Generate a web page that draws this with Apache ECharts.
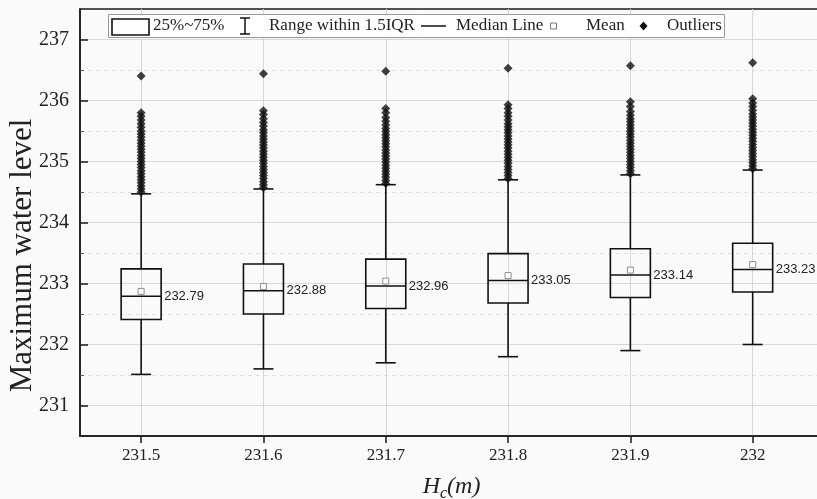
<!DOCTYPE html>
<html>
<head>
<meta charset="utf-8">
<script src="https://cdn.jsdelivr.net/npm/echarts@6/dist/echarts.min.js"></script>
<style>html,body{margin:0;padding:0;background:#fafafa}#c{width:817px;height:499px}</style>
</head>
<body>
<div id="c"></div>
<script>
// Hc categories (x positions)
var hc = [231.5, 231.6, 231.7, 231.8, 231.9, 232];
// box statistics
var whiskerLow  = [231.51, 231.60, 231.70, 231.80, 231.90, 232.00];
var q1          = [232.41, 232.50, 232.59, 232.68, 232.77, 232.86];
var median      = [232.79, 232.88, 232.96, 233.05, 233.14, 233.23];
var q3          = [233.24, 233.32, 233.40, 233.49, 233.57, 233.66];
var whiskerHigh = [234.47, 234.55, 234.62, 234.70, 234.78, 234.86];
var mean        = [232.87, 232.95, 233.04, 233.13, 233.22, 233.31];
// outliers per category
var out1 = [234.50,234.55,234.60,234.65,234.70,234.75,234.80,234.85,234.90,234.95,235.00,235.05,235.10,235.15,235.20,235.25,235.30,235.35,235.40,235.45,235.50,235.56,235.62,235.68,235.74,235.80,236.40];
var out2 = [234.57,234.62,234.67,234.72,234.77,234.82,234.87,234.92,234.97,235.02,235.07,235.12,235.17,235.22,235.27,235.32,235.37,235.42,235.47,235.52,235.58,235.64,235.70,235.77,235.83,236.44];
var out3 = [234.64,234.69,234.74,234.79,234.84,234.89,234.94,234.99,235.04,235.09,235.14,235.19,235.24,235.29,235.34,235.39,235.44,235.49,235.54,235.60,235.66,235.72,235.80,235.87,236.48];
var out4 = [234.72,234.77,234.82,234.87,234.92,234.97,235.02,235.07,235.12,235.17,235.22,235.27,235.32,235.37,235.42,235.47,235.52,235.57,235.62,235.68,235.74,235.80,235.87,235.93,236.53];
var out5 = [234.80,234.85,234.90,234.95,235.00,235.05,235.10,235.15,235.20,235.25,235.30,235.35,235.40,235.45,235.50,235.55,235.60,235.65,235.70,235.76,235.82,235.90,235.98,236.57];
var out6 = [234.88,234.93,234.98,235.03,235.08,235.13,235.18,235.23,235.28,235.33,235.38,235.43,235.48,235.53,235.58,235.63,235.68,235.73,235.78,235.84,235.90,235.96,236.03,236.62];
var outliers = [out1, out2, out3, out4, out5, out6];
// tick labels
var yMajor = [231, 232, 233, 234, 235, 236, 237];
var yMinor = [231.5, 232.5, 233.5, 234.5, 235.5, 236.5];

var boxData = hc.map(function (x, i) {
  return [x, whiskerLow[i], q1[i], median[i], q3[i], whiskerHigh[i]];
});
var meanData = hc.map(function (x, i) { return [x, mean[i]]; });
var outData = [];
outliers.forEach(function (arr, i) {
  arr.forEach(function (v) { outData.push([hc[i], v]); });
});

var serif = 'Liberation Serif';
var chart = echarts.init(document.getElementById('c'), null, {renderer: 'canvas'});

function renderBox(params, api) {
  var x = api.value(0);
  var pLow = api.coord([x, api.value(1)]);
  var pQ1 = api.coord([x, api.value(2)]);
  var pMed = api.coord([x, api.value(3)]);
  var pQ3 = api.coord([x, api.value(4)]);
  var pHigh = api.coord([x, api.value(5)]);
  var cx = pMed[0];
  var hw = 20, cw = 10;
  var ls = {stroke: '#111', lineWidth: 1.6, fill: null};
  return {
    type: 'group',
    children: [
      {type: 'line', shape: {x1: cx, y1: pLow[1], x2: cx, y2: pQ1[1]}, style: ls},
      {type: 'line', shape: {x1: cx, y1: pQ3[1], x2: cx, y2: pHigh[1]}, style: ls},
      {type: 'line', shape: {x1: cx - cw, y1: pLow[1], x2: cx + cw, y2: pLow[1]}, style: ls},
      {type: 'line', shape: {x1: cx - cw, y1: pHigh[1], x2: cx + cw, y2: pHigh[1]}, style: ls},
      {type: 'rect', shape: {x: cx - hw, y: pQ3[1], width: 2 * hw, height: pQ1[1] - pQ3[1]}, style: {stroke: '#111', lineWidth: 1.6, fill: 'none'}},
      {type: 'line', shape: {x1: cx - hw, y1: pMed[1], x2: cx + hw, y2: pMed[1]}, style: ls},
      {type: 'text', x: cx + hw + 3, y: pMed[1], style: {text: api.value(3).toFixed(2), font: '13px "Liberation Sans"', fill: '#222', textVerticalAlign: 'middle', textAlign: 'left'}}
    ]
  };
}

var lgY = 26;
var lgFont = '17px "Liberation Serif"';
var option = {
  backgroundColor: '#fafafa',
  animation: false,
  grid: {left: 80, top: 9, right: -6, bottom: 63, outerBoundsMode: 'none', containLabel: false, show: true, borderColor: '#1a1a1a', borderWidth: 1.5, backgroundColor: 'transparent'},
  xAxis: {
    type: 'value', min: 231.45, max: 232.0575,
    axisLine: {show: true, lineStyle: {color: '#1a1a1a', width: 1.5}},
    axisTick: {show: true, customValues: hc, length: 7, lineStyle: {color: '#1a1a1a', width: 1.5}},
    axisLabel: {customValues: hc, fontFamily: serif, fontSize: 17, color: '#222', margin: 11},
    splitLine: {show: true, lineStyle: {color: '#d6d6d6', width: 1}},
    name: '{a|H}{b|c}{a|(m)}', nameLocation: 'middle', nameGap: 36, nameMoveOverlap: false,
    nameTextStyle: {rich: {
      a: {fontFamily: serif, fontStyle: 'italic', fontSize: 24, color: '#222'},
      b: {fontFamily: serif, fontStyle: 'italic', fontSize: 16, color: '#222', padding: [14, 0, 0, 0]}
    }}
  },
  yAxis: [
    {
      type: 'value', min: 230.5, max: 237.5,
      axisLine: {show: true, lineStyle: {color: '#1a1a1a', width: 1.5}},
      axisTick: {show: true, inside: true, length: 8, customValues: yMajor, lineStyle: {color: '#1a1a1a', width: 1.5}},
      axisLabel: {customValues: yMajor, fontFamily: serif, fontSize: 20, color: '#222', margin: 11},
      splitLine: {show: true, lineStyle: {color: '#d9d9d9', width: 1}},
      name: 'Maximum water level', nameLocation: 'middle', nameGap: 42, nameMoveOverlap: false,
      nameTextStyle: {fontFamily: serif, fontSize: 31, color: '#222', padding: [0, 66, 0, 0]}
    },
    {
      type: 'value', min: 230.5, max: 237.5, position: 'left',
      axisLine: {show: false},
      axisTick: {show: true, inside: true, length: 4, customValues: yMinor, lineStyle: {color: '#555', width: 1}},
      axisLabel: {show: false},
      splitLine: {show: true, lineStyle: {color: '#e0e0e0', width: 1, type: [4, 4]}}
    }
  ],
  series: [
    {type: 'custom', renderItem: renderBox, data: boxData, encode: {x: 0, y: [1, 2, 3, 4, 5]}, z: 3},
    {type: 'scatter', data: outData, symbol: 'diamond', symbolSize: [9, 9], itemStyle: {color: '#111'}, z: 4},
    {type: 'scatter', data: meanData, symbol: 'rect', symbolSize: 6, itemStyle: {color: '#fff', borderColor: '#777', borderWidth: 1}, z: 5}
  ],
  graphic: [
    {type: 'rect', left: 108, top: 14, shape: {width: 616, height: 23}, style: {fill: '#fff', stroke: '#9a9a9a', lineWidth: 1}, z: 10},
    {type: 'rect', shape: {x: 112, y: 19, width: 37, height: 16}, style: {fill: 'none', stroke: '#111', lineWidth: 1.6}, z: 11},
    {type: 'text', x: 153, y: lgY, style: {text: '25%~75%', font: lgFont, fill: '#222', textVerticalAlign: 'middle'}, z: 11},
    {type: 'line', shape: {x1: 245, y1: 18, x2: 245, y2: 34}, style: {stroke: '#111', lineWidth: 1.5}, z: 11},
    {type: 'line', shape: {x1: 240, y1: 18, x2: 250, y2: 18}, style: {stroke: '#111', lineWidth: 1.5}, z: 11},
    {type: 'line', shape: {x1: 240, y1: 34, x2: 250, y2: 34}, style: {stroke: '#111', lineWidth: 1.5}, z: 11},
    {type: 'text', x: 269, y: lgY, style: {text: 'Range within 1.5IQR', font: lgFont, fill: '#222', textVerticalAlign: 'middle'}, z: 11},
    {type: 'line', shape: {x1: 421, y1: lgY, x2: 446, y2: lgY}, style: {stroke: '#111', lineWidth: 1.5}, z: 11},
    {type: 'text', x: 456, y: lgY, style: {text: 'Median Line', font: lgFont, fill: '#222', textVerticalAlign: 'middle'}, z: 11},
    {type: 'rect', shape: {x: 550.5, y: lgY - 3, width: 6, height: 6}, style: {fill: '#fff', stroke: '#777', lineWidth: 1}, z: 11},
    {type: 'text', x: 586, y: lgY, style: {text: 'Mean', font: lgFont, fill: '#222', textVerticalAlign: 'middle'}, z: 11},
    {type: 'polygon', shape: {points: [[643.5, lgY - 4.5], [647.5, lgY], [643.5, lgY + 4.5], [639.5, lgY]]}, style: {fill: '#111'}, z: 11},
    {type: 'text', x: 667, y: lgY, style: {text: 'Outliers', font: lgFont, fill: '#222', textVerticalAlign: 'middle'}, z: 11}
  ]
};
chart.setOption(option);
</script>
</body>
</html>
